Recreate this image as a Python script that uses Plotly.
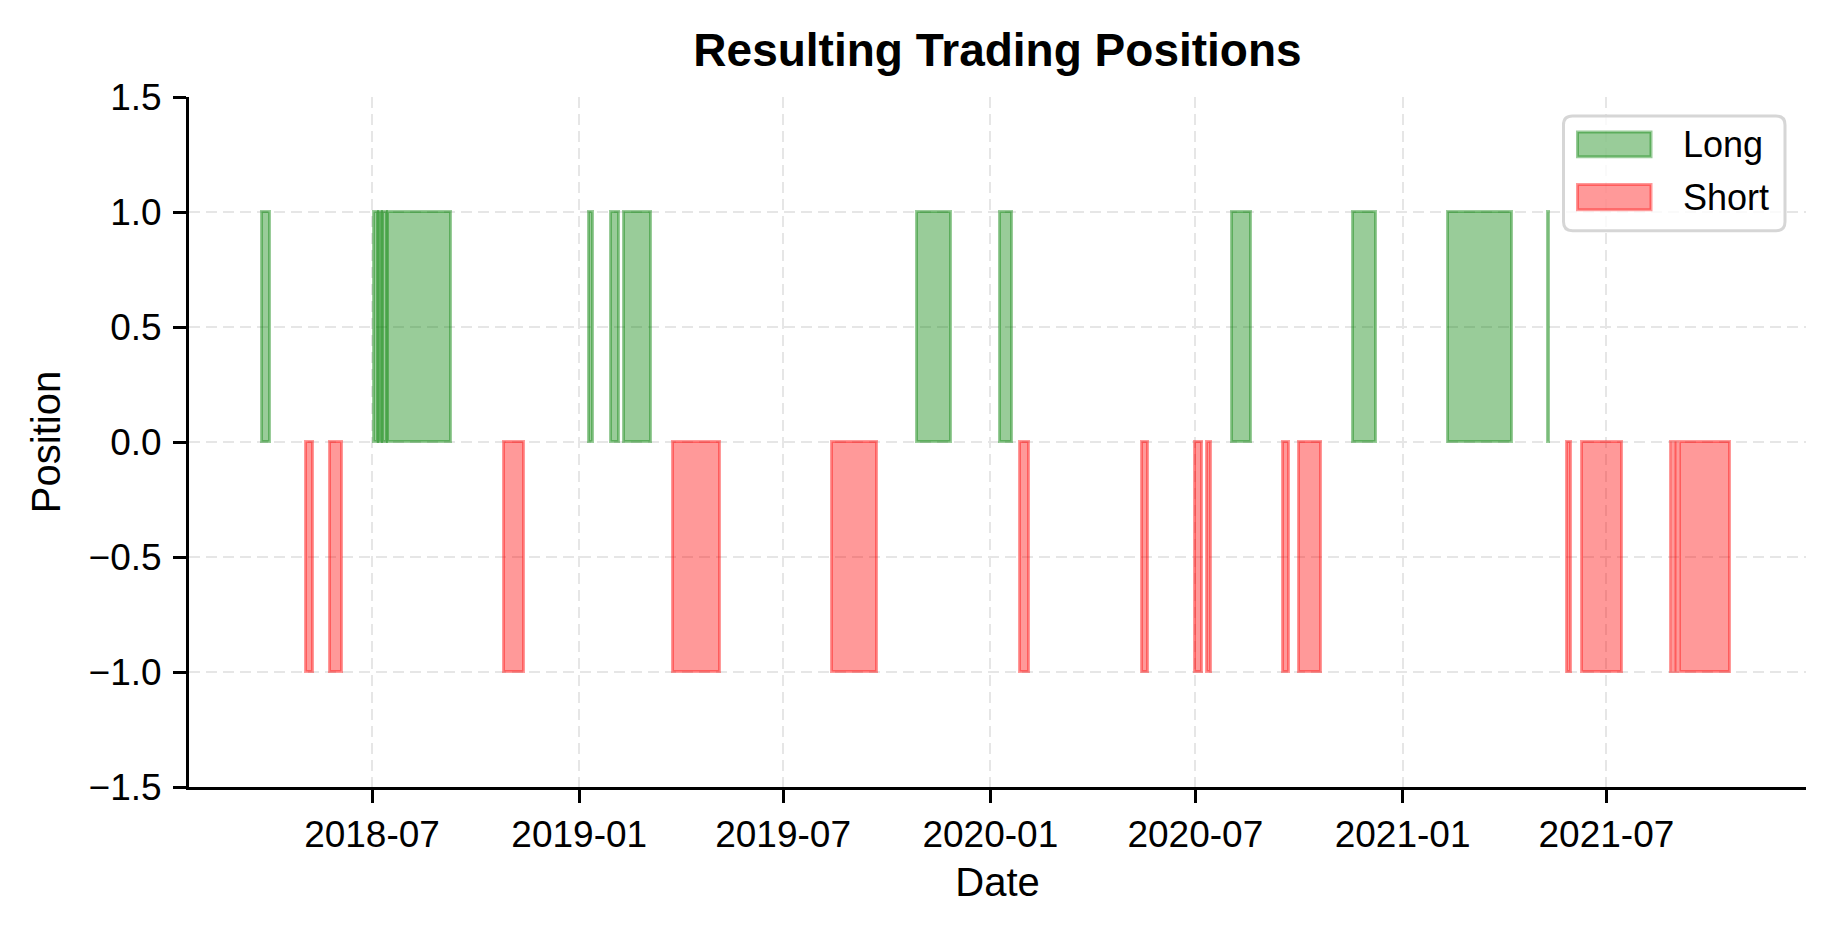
import plotly.graph_objects as go
import pandas as pd

# ---------------- data ----------------
long_start = ["2018-03-25 00:00", "2018-07-03 00:00", "2018-07-07 00:00", "2018-07-11 00:00",
              "2018-07-15 00:00", "2019-01-09 12:00", "2019-01-28 19:00", "2019-02-10 00:00",
              "2019-10-28 00:00", "2020-01-09 17:00", "2020-08-02 17:00", "2020-11-18 00:00",
              "2021-02-10 00:00", "2021-05-10 12:00"]
long_end = ["2018-04-01 12:00", "2018-07-06 00:00", "2018-07-10 00:00", "2018-07-14 00:00",
            "2018-09-09 00:00", "2019-01-13 06:00", "2019-02-05 07:00", "2019-03-05 17:00",
            "2019-11-27 00:00", "2020-01-19 22:00", "2020-08-19 14:00", "2020-12-08 00:00",
            "2021-04-08 14:00", "2021-05-11 00:00"]
long_position = 1

short_start = ["2018-05-03 07:00", "2018-05-24 10:00", "2018-10-25 19:00", "2019-03-24 19:00",
               "2019-08-13 00:00", "2020-01-27 12:00", "2020-05-15 02:00", "2020-07-01 02:00",
               "2020-07-11 19:00", "2020-09-17 05:00", "2020-09-30 19:00", "2021-05-27 07:00",
               "2021-06-09 17:00", "2021-08-27 00:00", "2021-08-31 00:00", "2021-09-04 05:00"]
short_end = ["2018-05-09 14:00", "2018-06-04 14:00", "2018-11-13 05:00", "2019-05-05 17:00",
             "2019-09-22 14:00", "2020-02-04 12:00", "2020-05-19 14:00", "2020-07-07 02:00",
             "2020-07-14 19:00", "2020-09-22 14:00", "2020-10-20 17:00", "2021-05-30 07:00",
             "2021-07-14 17:00", "2021-08-28 07:00", "2021-09-01 19:00", "2021-10-19 00:00"]
short_position = -1

series_names = ["Long", "Short"]
x_ticks = ["2018-07-01", "2019-01-01", "2019-07-01", "2020-01-01",
           "2020-07-01", "2021-01-01", "2021-07-01"]
x_tick_labels = ["2018-07", "2019-01", "2019-07", "2020-01", "2020-07", "2021-01", "2021-07"]
x_range = ["2018-01-19 12:00", "2021-12-25 05:00"]
y_ticks = [-1.5, -1.0, -0.5, 0.0, 0.5, 1.0, 1.5]
y_tick_labels = ["\u22121.5", "\u22121.0", "\u22120.5", "0.0", "0.5", "1.0", "1.5"]

# ---------------- styling ----------------
GREEN = "rgba(0,128,0,0.4)"
RED = "rgba(255,0,0,0.4)"
FONT = "Liberation Sans, Arial, sans-serif"

W, H = 1834, 934
L, R, T, B = 189, 28, 96.5, 146.7
PW, PH = W - L - R, H - T - B


def bar_trace(starts, ends, pos, name, color):
    s = pd.to_datetime(pd.Series(starts))
    e = pd.to_datetime(pd.Series(ends))
    mid = s + (e - s) / 2
    width = ((e - s).dt.total_seconds() * 1000).tolist()
    return go.Bar(x=mid, y=[pos] * len(s), base=0, width=width, name=name,
                  marker=dict(color=color, line=dict(color=color, width=3)),
                  showlegend=False, hoverinfo="x+y+name")


fig = go.Figure()
fig.add_trace(bar_trace(long_start, long_end, long_position, series_names[0], GREEN))
fig.add_trace(bar_trace(short_start, short_end, short_position, series_names[1], RED))

axis_common = dict(
    showline=True, linecolor="black", linewidth=3,
    ticks="outside", ticklen=13, tickwidth=3, tickcolor="black",
    showgrid=True, gridcolor="#e6e6e6", gridwidth=2.4, griddash="11px,6px",
    zeroline=False, tickfont=dict(size=37, color="black", family=FONT),
)

fig.update_layout(
    width=W, height=H,
    margin=dict(l=L, r=R, t=T, b=B, pad=0),
    paper_bgcolor="white", plot_bgcolor="white",
    barmode="overlay", bargap=0,
    font=dict(family=FONT, size=36, color="black"),
    title=dict(text="<b>Resulting Trading Positions</b>", font=dict(size=46, family=FONT, color="black"),
               x=(L + PW / 2) / W, xanchor="center", xref="container",
               y=1 - 50 / H, yanchor="middle", yref="container"),
    xaxis=dict(type="date", range=x_range, tickmode="array", tickvals=x_ticks, ticktext=x_tick_labels,
               title=dict(text="Date", font=dict(size=40, family=FONT), standoff=14),
               automargin=False, **axis_common),
    yaxis=dict(range=[-1.5, 1.5], tickmode="array", tickvals=y_ticks, ticktext=y_tick_labels,
               ticklabelstandoff=4,
               title=dict(text="Position", font=dict(size=40, family=FONT), standoff=16),
               automargin=False, **axis_common),
)


# ---------------- legend (drawn as matplotlib-like box) ----------------
def px(x):
    return (x - L) / PW


def py(y):
    return (H - B - y) / PH


def rounded_rect(x0, y0, x1, y1, r):
    rx, ry = r / PW, r / PH
    a, b, c, d = px(x0), px(x1), py(y0), py(y1)  # c = top, d = bottom
    return (f"M {a+rx},{c} L {b-rx},{c} Q {b},{c} {b},{c-ry} L {b},{d+ry} Q {b},{d} {b-rx},{d} "
            f"L {a+rx},{d} Q {a},{d} {a},{d+ry} L {a},{c-ry} Q {a},{c} {a+rx},{c} Z")


fig.add_shape(type="path", xref="paper", yref="paper", path=rounded_rect(1563.5, 115.5, 1785, 230.5, 9),
              fillcolor="rgba(255,255,255,0.8)", line=dict(color="#d6d6d6", width=3), layer="above")
patch_rows = [(131.5, 156.3, GREEN), (184.2, 209.5, RED)]
for (y0, y1, col) in patch_rows:
    fig.add_shape(type="rect", xref="paper", yref="paper",
                  x0=px(1577.5), x1=px(1651), y0=py(y1), y1=py(y0),
                  fillcolor=col, line=dict(color=col, width=3), layer="above")
for name, yc in zip(series_names, [143.8, 196.8]):
    fig.add_annotation(text=name, xref="paper", yref="paper", x=px(1681), y=py(yc),
                       xanchor="left", yanchor="middle", showarrow=False,
                       font=dict(size=36, family=FONT, color="black"))

fig.write_html("out.html", config={"displayModeBar": False},
               post_script="document.body.style.margin='0px';")
